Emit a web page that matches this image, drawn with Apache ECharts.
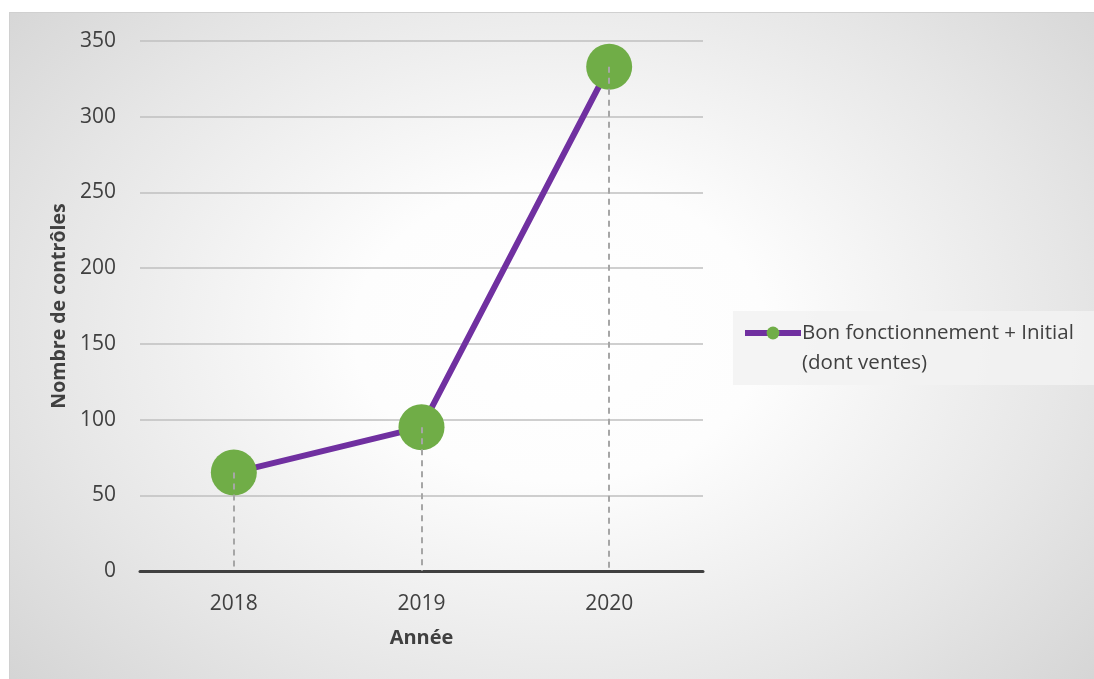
<!DOCTYPE html>
<html>
<head>
<meta charset="utf-8">
<script src="https://cdn.jsdelivr.net/npm/echarts@6/dist/echarts.min.js"></script>
<style>
html,body{margin:0;padding:0;width:1094px;height:679px;overflow:hidden;background:#fff;}
#bg{position:absolute;left:9px;top:12px;width:1100px;height:680px;box-sizing:border-box;border-top:1px solid #d0d0d0;border-left:1px solid #d0d0d0;
background:radial-gradient(ellipse 85% 100% at 50% 47%, #ffffff 0%, #fdfdfd 22%, #e6e6e6 55%, #c4c4c4 100%);}
#chart{position:absolute;left:0;top:0;width:1094px;height:679px;}
</style>
</head>
<body>
<div id="bg"></div>
<div id="chart"></div>
<script>
const categories = ['2018', '2019', '2020'];
const values = [65, 95, 333];
const seriesName = 'Bon fonctionnement + Initial (dont ventes)';
const legendLines = ['Bon fonctionnement + Initial', '(dont ventes)'];
const yTicks = { min: 0, max: 350, interval: 50 };

const chart = echarts.init(document.getElementById('chart'), null, { renderer: 'canvas' });
const font = '"Open Sans", sans-serif';

const dropLines = categories.map((c, i) => [
  { coord: [c, values[i]] },
  { coord: [c, 0] }
]);

chart.setOption({
  backgroundColor: 'transparent',
  animation: false,
  textStyle: { fontFamily: font },
  graphic: [{
    type: 'rect',
    shape: { x: 733, y: 311, width: 361, height: 74 },
    style: { fill: 'rgba(242,242,242,0.85)' },
    z: -1
  }],
  grid: { left: 140, right: 391, top: 41, bottom: 108 },
  legend: {
    left: 742,
    top: 288,
    orient: 'vertical',
    itemWidth: 56,
    itemHeight: 16,
    itemGap: 0,
    padding: 0,
    data: [seriesName],
    lineStyle: { width: 6 },
    formatter: function () { return '\n' + legendLines.join('\n'); },
    textStyle: { fontFamily: font, fontSize: 20.5, color: '#404040', lineHeight: 30, padding: [0, 0, 0, -4] }
  },
  xAxis: {
    type: 'category',
    data: categories,
    boundaryGap: true,
    name: 'Année',
    nameLocation: 'middle',
    nameGap: 57,
    nameTextStyle: { fontFamily: font, fontSize: 20, fontWeight: 'bold', color: '#404040' },
    axisLine: { lineStyle: { color: '#404040', width: 3 } },
    axisTick: { show: false },
    axisLabel: { margin: 23, fontFamily: font, fontSize: 21, color: '#404040' }
  },
  yAxis: {
    type: 'value',
    min: yTicks.min, max: yTicks.max, interval: yTicks.interval,
    name: 'Nombre de contrôles',
    nameLocation: 'middle',
    nameGap: 71,
    nameTextStyle: { fontFamily: font, fontSize: 19.5, fontWeight: 'bold', color: '#404040' },
    axisLine: { show: false },
    axisTick: { show: false },
    axisLabel: { margin: 24, fontFamily: font, fontSize: 21, color: '#404040' },
    splitLine: { lineStyle: { color: '#bfbfbf', width: 1.5 } }
  },
  series: [{
    name: seriesName,
    type: 'line',
    data: values,
    symbol: 'circle',
    symbolSize: 46,
    itemStyle: { color: '#70AD47' },
    lineStyle: { color: '#7030A0', width: 6 },
    markLine: {
      silent: true,
      symbol: ['none', 'none'],
      label: { show: false },
      lineStyle: { type: [6, 5], color: '#a6a6a6', width: 2 },
      data: dropLines,
      z: 5
    }
  }]
});
</script>
</body>
</html>
